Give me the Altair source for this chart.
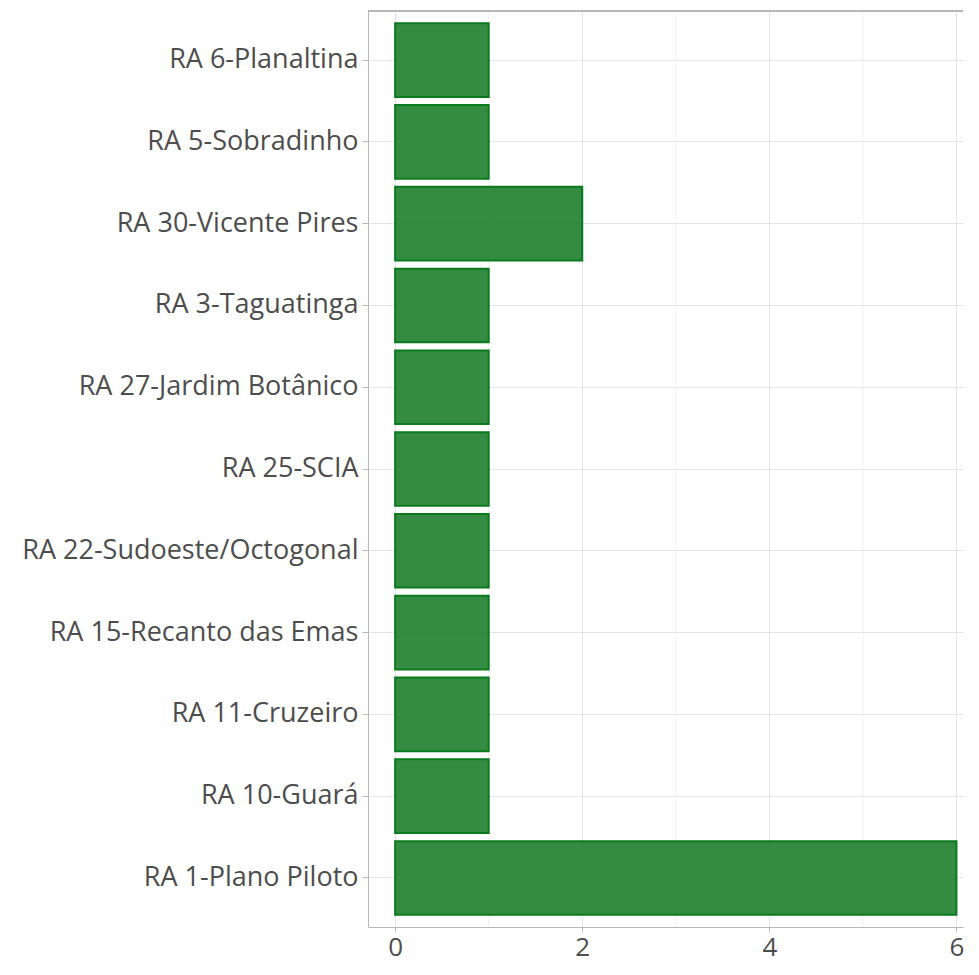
import altair as alt
import pandas as pd

categories = [
    "RA 6-Planaltina",
    "RA 5-Sobradinho",
    "RA 30-Vicente Pires",
    "RA 3-Taguatinga",
    "RA 27-Jardim Botânico",
    "RA 25-SCIA",
    "RA 22-Sudoeste/Octogonal",
    "RA 15-Recanto das Emas",
    "RA 11-Cruzeiro",
    "RA 10-Guará",
    "RA 1-Plano Piloto",
]
values = [1, 1, 2, 1, 1, 1, 1, 1, 1, 1, 6]
x_ticks = [0, 2, 4, 6]
x_minor = [1, 3, 5]

df = pd.DataFrame({"ra": categories, "n": values})
minor_df = pd.DataFrame({"v": x_minor})

W = 595
H = 916
FONT = "Open Sans"
TXT = "#4D4D4D"
LINE = "#B8B8B8"

xscale = alt.Scale(domain=[-0.29, 6.07], nice=False, zero=False)

minor = alt.Chart(minor_df).mark_rule(color="#F0F0F0", strokeWidth=1).encode(
    x=alt.X("v:Q", scale=xscale)
)

bars = alt.Chart(df).mark_bar(
    fill="#1E7F2E", fillOpacity=0.9, stroke="#0A7A1E", strokeWidth=2
).encode(
    x=alt.X(
        "n:Q",
        scale=xscale,
        axis=alt.Axis(
            title=None, values=x_ticks, format="d", grid=True, gridColor="#E4E4E4",
            domainColor=LINE, tickColor=LINE, tickSize=5, labelPadding=2,
            labelFontSize=26, labelColor=TXT, labelFont=FONT,
        ),
    ),
    y=alt.Y(
        "ra:N",
        sort=categories,
        scale=alt.Scale(paddingInner=0.1, paddingOuter=0.15),
        axis=alt.Axis(
            title=None, grid=True, gridColor="#E4E4E4",
            domainColor=LINE, tickColor=LINE, tickSize=6, labelPadding=4,
            labelFontSize=27, labelColor=TXT, labelFont=FONT, labelLimit=400,
        ),
    ),
)

top = alt.Chart(df).mark_rule(color=LINE, strokeWidth=1).encode(
    x=alt.value(0), x2=alt.value(W), y=alt.value(0)
)

chart = alt.layer(minor, bars, top).properties(
    width=W, height=H,
    autosize=alt.AutoSizeParams(type="none"),
    padding={"left": 360, "top": 3, "right": 5, "bottom": 36},
).configure_view(stroke=None)

chart.save("out.html", embed_options={"renderer": "svg", "actions": False})
